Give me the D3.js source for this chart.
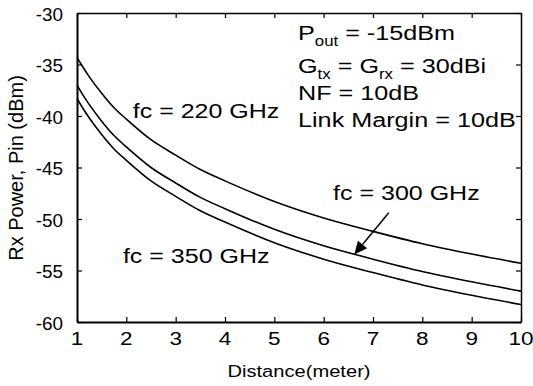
<!DOCTYPE html>
<html><head><meta charset="utf-8">
<script src="https://cdn.jsdelivr.net/npm/d3@7"></script>
<style>
html,body{margin:0;padding:0;background:#fff;}
svg{display:block;}
text{font-family:"Liberation Sans",Arial,sans-serif;fill:#000;}
</style></head>
<body>
<svg id="chart" width="533" height="386"></svg>
<script>
// ---- data ----
const distance = [1, 1.1, 1.25, 1.5, 1.75, 2, 2.5, 3, 3.5, 4, 5, 6, 7, 8, 9, 10];
const pin220 = [-34.3, -35.1, -36.2, -37.8, -39.2, -40.3, -42.3, -43.8, -45.2, -46.3, -48.3, -49.9, -51.2, -52.4, -53.4, -54.3];
const pin300 = [-37.0, -37.8, -38.9, -40.5, -41.9, -43.0, -45.0, -46.5, -47.9, -49.0, -51.0, -52.6, -53.9, -55.1, -56.1, -57.0];
const pin350 = [-38.3, -39.1, -40.2, -41.8, -43.2, -44.3, -46.3, -47.8, -49.2, -50.3, -52.3, -53.9, -55.2, -56.4, -57.4, -58.3];
const xTicks = [1, 2, 3, 4, 5, 6, 7, 8, 9, 10];
const yTicks = [-60, -55, -50, -45, -40, -35, -30];
const xLabel = "Distance(meter)";
const yLabel = "Rx Power, Pin (dBm)";

const svg = d3.select("#chart");
const L = 77, R = 521, T = 13, B = 322;
const x = d3.scaleLinear().domain([1, 10]).range([L, R]);
const y = d3.scaleLinear().domain([-60, -30]).range([B, T]);

// axes (ticks inward, on all sides)
const tl = 5;
const gB = svg.append("g").attr("transform", `translate(0,${B})`)
  .call(d3.axisBottom(x).tickValues(xTicks).tickSizeInner(-tl).tickSizeOuter(0).tickFormat(""));
const gT = svg.append("g").attr("transform", `translate(0,${T})`)
  .call(d3.axisTop(x).tickValues(xTicks).tickSizeInner(-tl).tickSizeOuter(0).tickFormat(""));
const gL = svg.append("g").attr("transform", `translate(${L},0)`)
  .call(d3.axisLeft(y).tickValues(yTicks).tickSizeInner(-tl).tickSizeOuter(0).tickFormat(""));
const gR = svg.append("g").attr("transform", `translate(${R},0)`)
  .call(d3.axisRight(y).tickValues(yTicks).tickSizeInner(-tl).tickSizeOuter(0).tickFormat(""));
[gB, gT, gL, gR].forEach(g => {
  g.selectAll("path.domain").attr("stroke", "#000").attr("stroke-width", 2);
  g.selectAll(".tick line").attr("stroke", "#000").attr("stroke-width", 1.2);
});
gT.selectAll("path.domain").attr("stroke-width", 1.5);
gR.selectAll("path.domain").attr("stroke-width", 1.5);

// tick labels
svg.append("g").selectAll("text").data(xTicks).join("text")
  .attr("transform", d => `translate(${x(d)},345) scale(1.25,1)`)
  .attr("text-anchor", "middle").style("font-size", "18px").text(d => d);
svg.append("g").selectAll("text").data(yTicks).join("text")
  .attr("transform", d => `translate(63,${y(d) + 3}) scale(1.05,1)`)
  .attr("text-anchor", "end").attr("dominant-baseline", "middle")
  .style("font-size", "18px").text(d => d);

// axis titles
svg.append("text").attr("transform", `translate(${(L + R) / 2 + 0},377) scale(1.22,1)`)
  .attr("text-anchor", "middle").style("font-size", "16.5px").text(xLabel);
svg.append("text").attr("transform", `translate(23,168) rotate(-90)`)
  .attr("text-anchor", "middle").style("font-size", "20px").text(yLabel);

// curves
const line = d3.line().x(d => x(d[0])).y(d => y(d[1])).curve(d3.curveMonotoneX);
[pin220, pin300, pin350].forEach(s => {
  svg.append("path").datum(distance.map((d, i) => [d, s[i]]))
    .attr("fill", "none").attr("stroke", "#000").attr("stroke-width", 1.6)
    .attr("d", line);
});

// curve labels
const curveLabels = [
  {text: "fc = 220 GHz", d: 2.13, v: -40.2},
  {text: "fc = 350 GHz", d: 1.93, v: -54.27},
  {text: "fc = 300 GHz", d: 6.19, v: -48.16}
];
svg.append("g").selectAll("text").data(curveLabels).join("text")
  .attr("transform", c => `translate(${x(c.d)},${y(c.v)}) scale(1.22,1)`)
  .style("font-size", "20.5px").text(c => c.text);

// arrow for 300 GHz label
const arrowFrom = [7.32, -49.4], arrowTo = [6.62, -53.45];
const x1 = x(arrowFrom[0]), y1 = y(arrowFrom[1]), x2 = x(arrowTo[0]), y2 = y(arrowTo[1]);
const ang = Math.atan2(y2 - y1, x2 - x1);
const hl = 13, hw = 6;
const bx = x2 - hl * Math.cos(ang), by = y2 - hl * Math.sin(ang);
svg.append("line").attr("x1", x1).attr("y1", y1).attr("x2", bx).attr("y2", by)
  .attr("stroke", "#000").attr("stroke-width", 1.5);
svg.append("path")
  .attr("d", `M${x2},${y2}L${bx + hw * Math.sin(ang)},${by - hw * Math.cos(ang)}L${bx - hw * Math.sin(ang)},${by + hw * Math.cos(ang)}Z`)
  .attr("fill", "#000");

// parameter annotation
const annX = 5.48;
const ann = [
  {v: -32.62, parts: [["P", 0], ["out", 1], [" = -15dBm", 0]]},
  {v: -35.83, parts: [["G", 0], ["tx", 1], [" = G", 0], ["rx", 1], [" = 30dBi", 0]]},
  {v: -38.45, parts: [["NF = 10dB", 0]]},
  {v: -41.07, parts: [["Link Margin = 10dB", 0]]}
];
ann.forEach(a => {
  const t = svg.append("text")
    .attr("transform", `translate(${x(annX)},${y(a.v)}) scale(1.2,1)`)
    .style("font-size", "21px");
  let sub = false;
  a.parts.forEach(p => {
    const ts = t.append("tspan").text(p[0]);
    if (p[1] && !sub) { ts.attr("dy", 6).style("font-size", "14px"); sub = true; }
    else if (!p[1] && sub) { ts.attr("dy", -6); sub = false; }
    else if (p[1]) { ts.style("font-size", "14px"); }
  });
});
</script>
</body></html>
